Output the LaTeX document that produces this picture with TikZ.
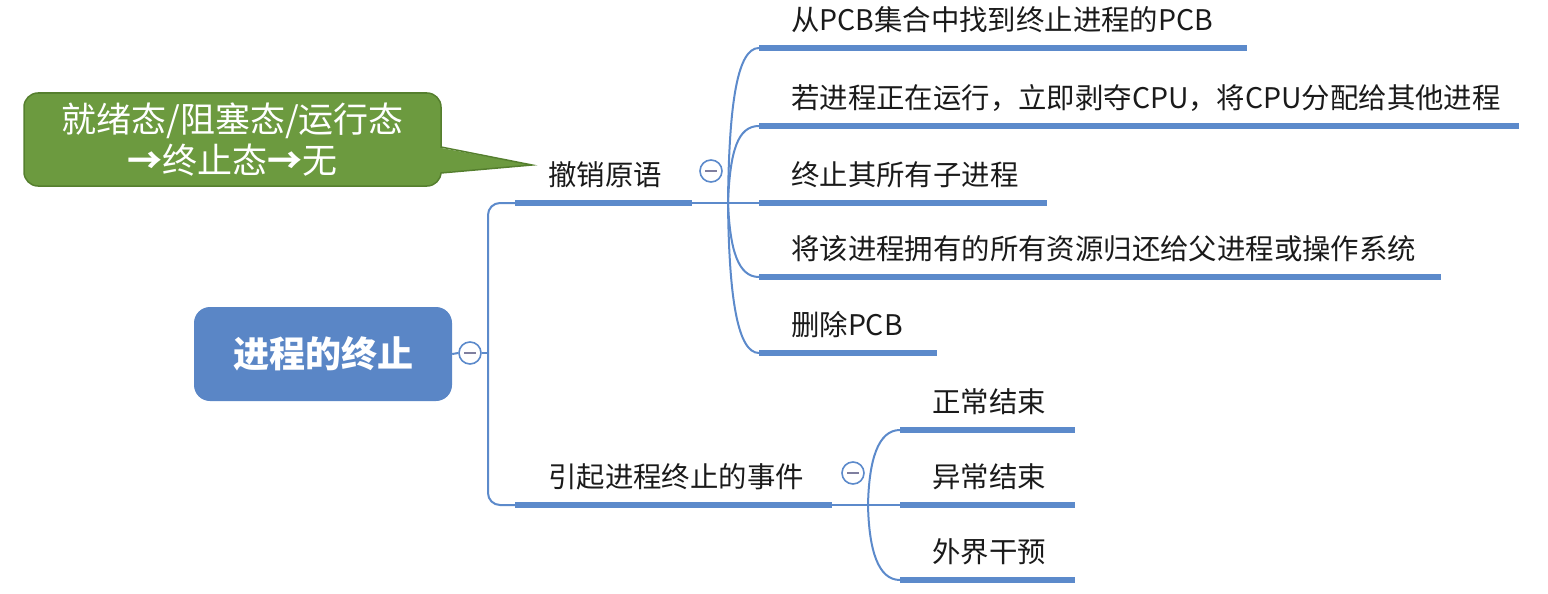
\documentclass[tikz,border=0pt]{standalone}
\usepackage{fontspec}
\setmainfont{Noto Sans CJK SC}
\definecolor{rootblue}{HTML}{5A86C6}
\definecolor{lineblue}{HTML}{5C8ACB}
\definecolor{calloutgreen}{HTML}{6C9A3F}
\definecolor{calloutborder}{HTML}{557F2E}
\definecolor{minusgray}{HTML}{7F7F9F}
\definecolor{textdark}{HTML}{1A1A1A}
\begin{document}
\begin{tikzpicture}[x=1pt,y=-1pt,
  lbl/.style={anchor=west,inner sep=0pt,font=\fontsize{28.4}{34}\selectfont,text=textdark},
  bar/.style={line width=6pt,draw=lineblue},
  conn/.style={line width=2pt,draw=lineblue},
  tog/.style={circle,draw=lineblue,line width=1.6pt,fill=white,minimum size=22pt,inner sep=0pt},
  minus/.style={line width=2pt,draw=minusgray}]
\useasboundingbox (0,0) rectangle (1548,594);

% callout
\node[fill=calloutgreen,draw=calloutborder,line width=1.5pt,rounded corners=14pt,
  minimum width=417pt,minimum height=93pt,align=center,text=white,inner sep=0pt,
  font=\fontsize{35}{41}\selectfont] (call) at (232.5,139.5) {就绪态/阻塞态/运行态\\{\bfseries →}终止态{\bfseries →}无};
\coordinate (tip) at (532,165);
\fill[calloutgreen] (436,147) -- (tip) -- (436,173) -- cycle;
\draw[calloutborder,line width=1.5pt] (441,147) -- (tip) -- (441,173);

% root
\node[fill=rootblue,rounded corners=16pt,minimum width=258pt,minimum height=94pt,
  text=white,inner sep=0pt,font=\fontsize{36}{42}\selectfont\bfseries] (root) at (323,354) {进程的终止};
\node[tog] (t0) at (470,353) {};
\draw[minus] (t0.center) ++(-6,0) -- ++(12,0);
\draw[conn] (root.east) -- (t0.west);

% level 1 bars
\coordinate (j0) at (488,353);
\coordinate (b1s) at (515,203); \coordinate (b1e) at (692,203);
\coordinate (b2s) at (515,505); \coordinate (b2e) at (832,505);
\draw[conn] (t0.east) -- (j0);
\draw[conn,rounded corners=12pt] (j0) |- (b1s);
\draw[conn,rounded corners=12pt] (j0) |- (b2s);
\draw[bar] (b1s) -- (b1e);
\draw[bar] (b2s) -- (b2e);
\node[lbl] (l1) at (548,175) {撤销原语};
\node[lbl] (l2) at (548,477) {引起进程终止的事件};
\node[tog] (t1) at (711,171) {};
\draw[minus] (t1.center) ++(-6,0) -- ++(12,0);
\node[tog] (t2) at (853,473) {};
\draw[minus] (t2.center) ++(-6,0) -- ++(12,0);

% children of 撤销原语
\coordinate (j1) at (728,203);
\coordinate (c1s) at (759,48);  \coordinate (c1e) at (1247,48);
\coordinate (c2s) at (759,126); \coordinate (c2e) at (1519,126);
\coordinate (c3s) at (759,203); \coordinate (c3e) at (1047,203);
\coordinate (c4s) at (759,277); \coordinate (c4e) at (1441,277);
\coordinate (c5s) at (759,353); \coordinate (c5e) at (937,353);
\draw[conn] (b1e) -- (c3s);
\draw[conn] (j1) .. controls (729,100) and (738,48) .. (c1s);
\draw[conn] (j1) .. controls (730,150) and (738,126) .. (c2s);
\draw[conn] (j1) .. controls (730,250) and (738,277) .. (c4s);
\draw[conn] (j1) .. controls (729,300) and (738,353) .. (c5s);
\draw[bar] (c1s) -- (c1e);
\draw[bar] (c2s) -- (c2e);
\draw[bar] (c3s) -- (c3e);
\draw[bar] (c4s) -- (c4e);
\draw[bar] (c5s) -- (c5e);
\node[lbl] (k1) at (791,20) {从PCB集合中找到终止进程的PCB};
\node[lbl] (k2) at (791,98) {若进程正在运行，立即剥夺CPU，将CPU分配给其他进程};
\node[lbl] (k3) at (791,175) {终止其所有子进程};
\node[lbl] (k4) at (791,249) {将该进程拥有的所有资源归还给父进程或操作系统};
\node[lbl] (k5) at (791,325) {删除PCB};

% children of 引起进程终止的事件
\coordinate (j2) at (868,505);
\coordinate (d1s) at (900,430); \coordinate (d1e) at (1075,430);
\coordinate (d2s) at (900,505); \coordinate (d2e) at (1075,505);
\coordinate (d3s) at (900,580); \coordinate (d3e) at (1075,580);
\draw[conn] (b2e) -- (d2s);
\draw[conn] (j2) .. controls (869,460) and (878,430) .. (d1s);
\draw[conn] (j2) .. controls (869,550) and (878,580) .. (d3s);
\draw[bar] (d1s) -- (d1e);
\draw[bar] (d2s) -- (d2e);
\draw[bar] (d3s) -- (d3e);
\node[lbl] (m1) at (932,402) {正常结束};
\node[lbl] (m2) at (932,477) {异常结束};
\node[lbl] (m3) at (932,552) {外界干预};
\end{tikzpicture}
\end{document}
